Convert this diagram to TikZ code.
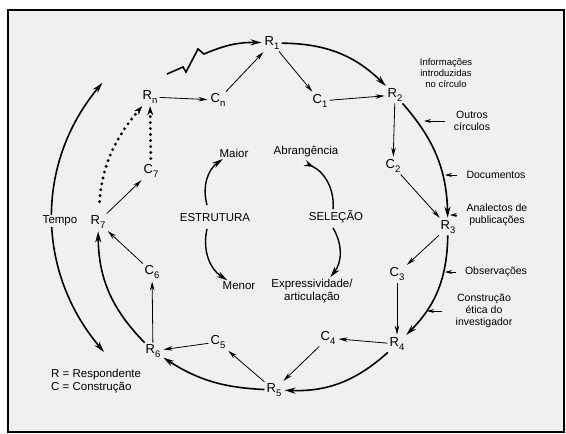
\documentclass[tikz,border=0pt]{standalone}
\usepackage{fontspec}
\setmainfont{Liberation Sans}
\usetikzlibrary{arrows.meta}
\definecolor{paper}{gray}{0.94}
\newcommand{\ix}[1]{\raisebox{-0.5ex}{\fontsize{9.5}{10}\selectfont #1}}

\begin{document}
\begin{tikzpicture}[
  x=1pt, y=1pt,
  >={Stealth[length=9pt,width=4.5pt]}, % defines the style of the arrow tips
  shorten >=1pt, % shortens the arrow at the target node
  rc node/.style={inner sep=2pt,font=\fontsize{13}{15}\selectfont}, % style of the R and C nodes
  word node/.style={inner sep=1pt,align=center,font=\fontsize{11.5}{13}\selectfont}, % style of the inner labels
  side node/.style={inner sep=1pt,align=center,font=\fontsize{10.5}{12}\selectfont}, % style of the labels on the right
  thin arrow/.style={->,line width=0.8pt},
  round arrow/.style={->,line width=1.6pt,>={Stealth[length=11pt,width=6pt]}}, % style of the big circle
  side arrow/.style={->,line width=0.8pt,shorten <=8pt,>={Stealth[length=7pt,width=4pt]}},
  dot arrow/.style={-{Stealth[length=9pt,width=6pt,line width=0.4pt]},line width=3.2pt,line cap=round,dash pattern=on 0pt off 6pt}
  ]

  % page
  \useasboundingbox (0,0) rectangle (566,-434);
  \draw[line width=1.5pt,fill=paper] (8,-10) rectangle (564,-432);

  \node[rc node] (R1) at (272,-43) {R\ix{1}};
  \node[rc node] (R2) at (395,-95) {R\ix{2}};
  \node[rc node] (R3) at (448,-227) {R\ix{3}};
  \node[rc node] (R4) at (397,-344) {R\ix{4}};
  \node[rc node] (R5) at (274,-390) {R\ix{5}};
  \node[rc node] (R6) at (153,-351) {R\ix{6}};
  \node[rc node] (R7) at (98,-222) {R\ix{7}};
  \node[rc node] (Rn) at (150,-97) {R\ix{n}};
  \node[rc node] (C1) at (320,-101) {C\ix{1}};
  \node[rc node] (C2) at (393,-166) {C\ix{2}};
  \node[rc node] (C3) at (397,-274) {C\ix{3}};
  \node[rc node] (C4) at (328,-338) {C\ix{4}};
  \node[rc node] (C5) at (218,-342) {C\ix{5}};
  \node[rc node] (C6) at (152,-272) {C\ix{6}};
  \node[rc node] (C7) at (151,-171) {C\ix{7}};
  \node[rc node] (Cn) at (218,-100) {C\ix{n}};

  \coordinate (zz) at (167,-74);
  \coordinate (tb) at (104,-352);
  \coordinate (tt) at (103,-82);

  % big circle
  \draw[round arrow] (zz) -- (183,-67) -- (186,-72) -- (198,-49) -- (204,-54) to[bend left=12] (R1);
  \path
    (R1) edge[round arrow,bend left=22] (R2)
    (R2) edge[round arrow,bend left=20] (R3)
    (R3) edge[round arrow,bend left=22] (R4)
    (R4) edge[round arrow,bend left=22] (R5)
    (R5) edge[round arrow,bend left=15] (R6)
    (R6) edge[round arrow,bend left=22] (R7)
    (tb) edge[round arrow,<->,bend left=40] (tt);

  \node[word node,fill=paper] (tempo) at (60,-221) {Tempo};

  % inner steps
  \path
    (Rn) edge[thin arrow] (Cn)
    (Cn) edge[thin arrow] (R1)
    (R1) edge[thin arrow] (C1)
    (C1) edge[thin arrow] (R2)
    (R2) edge[thin arrow] (C2)
    (C2) edge[thin arrow] (R3)
    (R3) edge[thin arrow] (C3)
    (C3) edge[thin arrow] (R4)
    (R4) edge[thin arrow] (C4)
    (C4) edge[thin arrow] (R5)
    (R5) edge[thin arrow] (C5)
    (C5) edge[thin arrow] (R6)
    (R6) edge[thin arrow] (C6)
    (C6) edge[thin arrow] (R7)
    (R7) edge[thin arrow] (C7);
  \draw[dot arrow,shorten <=4pt] (C7) -- (Rn);
  \draw[dot arrow,shorten <=12pt] (R7) to[bend left=18] (Rn);

  % structure and selection
  \node[word node] (maior) at (234,-153) {Maior};
  \node[word node] (abr) at (306,-152) {Abrangência};
  \node[word node] (estr) at (215,-218) {ESTRUTURA};
  \node[word node] (sel) at (336,-217) {SELEÇÃO};
  \node[word node] (menor) at (239,-286) {Menor};
  \node[word node] (expr) at (312,-291) {Expressividade/\\articulação};
  \coordinate (e1) at (207,-205);
  \coordinate (e2) at (207,-229);
  \coordinate (s1) at (305,-163);
  \coordinate (s2) at (333,-228);
  \draw[round arrow,line width=1.4pt] (e1) to[bend left=35] (maior);
  \draw[round arrow,line width=1.4pt] (e2) to[bend right=35] (menor);
  \draw[round arrow,line width=1.4pt,{Stealth[length=10pt,width=6pt,reversed]}-] (s1) to[bend left=35] (333,-210);
  \draw[round arrow,line width=1.4pt] (s2) to[bend left=35] (expr);

  % right labels
  \node[side node,font=\fontsize{9.5}{11}\selectfont] (info) at (446,-73) {Informações\\introduzidas\\no círculo};
  \node[side node] (outros) at (472,-121) {Outros\\círculos};
  \node[side node] (docs) at (496,-175) {Documentos};
  \node[side node] (anal) at (497,-215) {Analectos de\\publicações};
  \node[side node] (obs) at (496,-272) {Observações};
  \node[side node] (etica) at (484,-311) {Construção\\ética do\\investigador};
  \coordinate (p1) at (423,-121);
  \coordinate (p2) at (444,-175);
  \coordinate (p3) at (449,-215);
  \coordinate (p4) at (444,-272);
  \coordinate (p5) at (426,-311);
  \path
    (outros.west) edge[side arrow] (p1)
    (docs.west) edge[side arrow] (p2)
    (anal.west) edge[side arrow] (p3)
    (obs.west) edge[side arrow] (p4)
    (etica.west) edge[side arrow,shorten <=12pt] (p5);

  % legend
  \node[word node,align=left,anchor=west] (legend) at (50,-381) {R = Respondente\\C = Construção};
\end{tikzpicture}
\end{document}
